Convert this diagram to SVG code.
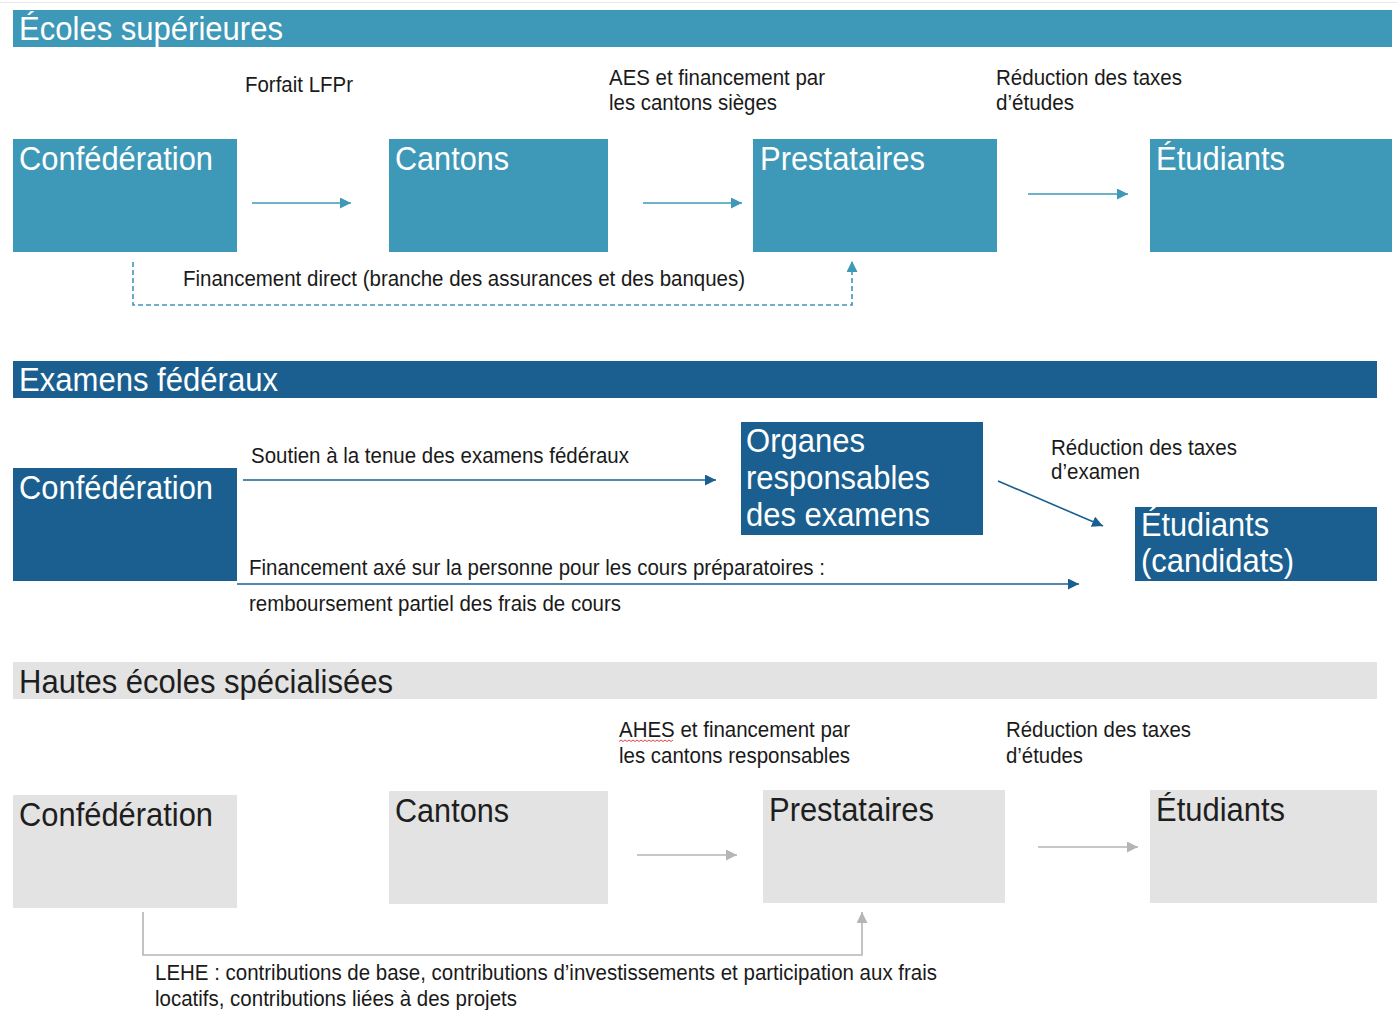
<svg xmlns="http://www.w3.org/2000/svg" width="1397" height="1010" viewBox="0 0 1397 1010">
<defs>
<style>
text{font-family:"Liberation Sans",Arial,sans-serif}
.lbl{font-size:22px;fill:#1a1a1a}
.big{font-size:33px}
.w{fill:#ffffff}
.d{fill:#1e1e1e}
.s1{fill:#3e98b7}
.s2{fill:#1a5f8f}
.s3{fill:#e3e3e3}
.c1{stroke:#3e98b7;stroke-width:1.6;fill:none}
.c2{stroke:#1a5f8f;stroke-width:1.6;fill:none}
.c3{stroke:#b5b5b5;stroke-width:1.6;fill:none}
</style>
<marker id="a1" markerUnits="userSpaceOnUse" markerWidth="13" markerHeight="13" refX="11" refY="5.5" orient="auto"><path d="M0,0 L11,5.5 L0,11 z" fill="#3e98b7"/></marker>
<marker id="a2" markerUnits="userSpaceOnUse" markerWidth="13" markerHeight="13" refX="11" refY="5.5" orient="auto"><path d="M0,0 L11,5.5 L0,11 z" fill="#1a5f8f"/></marker>
<marker id="a3" markerUnits="userSpaceOnUse" markerWidth="13" markerHeight="13" refX="11" refY="5.5" orient="auto"><path d="M0,0 L11,5.5 L0,11 z" fill="#b5b5b5"/></marker>
</defs>
<rect width="1397" height="1010" fill="#ffffff"/>
<line x1="0" y1="2.5" x2="1397" y2="2.5" stroke="#e8e8e8" stroke-width="1"/>

<!-- Section 1 -->
<g id="header-ecoles-superieures">
<rect class="s1" x="13" y="10" width="1379" height="37"/>
<text class="big w" x="19" y="40" textLength="264" lengthAdjust="spacingAndGlyphs">Écoles supérieures</text>
</g>
<g id="es-confederation">
<rect class="s1" x="13" y="139" width="224" height="113"/>
<text class="big w" x="19" y="170" textLength="194" lengthAdjust="spacingAndGlyphs">Confédération</text>
</g>
<g id="es-cantons">
<rect class="s1" x="389" y="139" width="219" height="113"/>
<text class="big w" x="395" y="170" textLength="114" lengthAdjust="spacingAndGlyphs">Cantons</text>
</g>
<g id="es-prestataires">
<rect class="s1" x="753" y="139" width="244" height="113"/>
<text class="big w" x="760" y="170" textLength="165" lengthAdjust="spacingAndGlyphs">Prestataires</text>
</g>
<g id="es-etudiants">
<rect class="s1" x="1150" y="139" width="242" height="113"/>
<text class="big w" x="1156" y="170" textLength="129" lengthAdjust="spacingAndGlyphs">Étudiants</text>
</g>
<g id="es-labels">
<text class="lbl" x="245" y="92" textLength="108" lengthAdjust="spacingAndGlyphs">Forfait LFPr</text>
<text class="lbl" x="609" y="85" textLength="216" lengthAdjust="spacingAndGlyphs">AES et financement par</text>
<text class="lbl" x="609" y="110" textLength="168" lengthAdjust="spacingAndGlyphs">les cantons sièges</text>
<text class="lbl" x="996" y="85" textLength="186" lengthAdjust="spacingAndGlyphs">Réduction des taxes</text>
<text class="lbl" x="996" y="110" textLength="78" lengthAdjust="spacingAndGlyphs">d’études</text>
<text class="lbl" x="183" y="286" textLength="562" lengthAdjust="spacingAndGlyphs">Financement direct (branche des assurances et des banques)</text>
</g>

<!-- Section 2 -->
<g id="header-examens-federaux">
<rect class="s2" x="13" y="361" width="1364" height="37"/>
<text class="big w" x="19" y="391" textLength="259" lengthAdjust="spacingAndGlyphs">Examens fédéraux</text>
</g>
<g id="ef-confederation">
<rect class="s2" x="13" y="468" width="224" height="113"/>
<text class="big w" x="19" y="499" textLength="194" lengthAdjust="spacingAndGlyphs">Confédération</text>
</g>
<g id="ef-organes">
<rect class="s2" x="741" y="422" width="242" height="113"/>
<text class="big w" x="746" y="452" textLength="119" lengthAdjust="spacingAndGlyphs">Organes</text>
<text class="big w" x="746" y="489" textLength="184" lengthAdjust="spacingAndGlyphs">responsables</text>
<text class="big w" x="746" y="526" textLength="184" lengthAdjust="spacingAndGlyphs">des examens</text>
</g>
<g id="ef-etudiants">
<rect class="s2" x="1135" y="507" width="242" height="74"/>
<text class="big w" x="1141" y="536" textLength="128" lengthAdjust="spacingAndGlyphs">Étudiants</text>
<text class="big w" x="1141" y="572" textLength="153" lengthAdjust="spacingAndGlyphs">(candidats)</text>
</g>
<g id="ef-labels">
<text class="lbl" x="251" y="463" textLength="378" lengthAdjust="spacingAndGlyphs">Soutien à la tenue des examens fédéraux</text>
<text class="lbl" x="249" y="575" textLength="576" lengthAdjust="spacingAndGlyphs">Financement axé sur la personne pour les cours préparatoires :</text>
<text class="lbl" x="249" y="611" textLength="372" lengthAdjust="spacingAndGlyphs">remboursement partiel des frais de cours</text>
<text class="lbl" x="1051" y="455" textLength="186" lengthAdjust="spacingAndGlyphs">Réduction des taxes</text>
<text class="lbl" x="1051" y="479" textLength="89" lengthAdjust="spacingAndGlyphs">d’examen</text>
</g>

<!-- Section 3 -->
<g id="header-hes">
<rect class="s3" x="13" y="662" width="1364" height="37"/>
<text class="big d" x="19" y="693" textLength="374" lengthAdjust="spacingAndGlyphs">Hautes écoles spécialisées</text>
</g>
<g id="hes-confederation">
<rect class="s3" x="13" y="795" width="224" height="113"/>
<text class="big d" x="19" y="826" textLength="194" lengthAdjust="spacingAndGlyphs">Confédération</text>
</g>
<g id="hes-cantons">
<rect class="s3" x="389" y="791" width="219" height="113"/>
<text class="big d" x="395" y="822" textLength="114" lengthAdjust="spacingAndGlyphs">Cantons</text>
</g>
<g id="hes-prestataires">
<rect class="s3" x="763" y="790" width="242" height="113"/>
<text class="big d" x="769" y="821" textLength="165" lengthAdjust="spacingAndGlyphs">Prestataires</text>
</g>
<g id="hes-etudiants">
<rect class="s3" x="1150" y="790" width="227" height="113"/>
<text class="big d" x="1156" y="821" textLength="129" lengthAdjust="spacingAndGlyphs">Étudiants</text>
</g>
<g id="hes-labels">
<text class="lbl" x="619" y="737" textLength="231" lengthAdjust="spacingAndGlyphs">AHES et financement par</text>
<path d="M619,741.5 l2,-1.5 l2,1.5 l2,-1.5 l2,1.5 l2,-1.5 l2,1.5 l2,-1.5 l2,1.5 l2,-1.5 l2,1.5 l2,-1.5 l2,1.5 l2,-1.5 l2,1.5 l2,-1.5 l2,1.5 l2,-1.5 l2,1.5 l2,-1.5 l2,1.5 l2,-1.5 l2,1.5 l2,-1.5 l2,1.5 l2,-1.5 l2,1.5 l2,-1.5" fill="none" stroke="#e03030" stroke-width="0.9"/>
<text class="lbl" x="619" y="763" textLength="231" lengthAdjust="spacingAndGlyphs">les cantons responsables</text>
<text class="lbl" x="1006" y="737" textLength="185" lengthAdjust="spacingAndGlyphs">Réduction des taxes</text>
<text class="lbl" x="1006" y="763" textLength="77" lengthAdjust="spacingAndGlyphs">d’études</text>
<text class="lbl" x="155" y="980" textLength="782" lengthAdjust="spacingAndGlyphs">LEHE : contributions de base, contributions d’investissements et participation aux frais</text>
<text class="lbl" x="155" y="1006" textLength="362" lengthAdjust="spacingAndGlyphs">locatifs, contributions liées à des projets</text>
</g>

<!-- Connectors -->
<g id="connectors">
<line class="c1" x1="252" y1="203" x2="351" y2="203" marker-end="url(#a1)"/>
<line class="c1" x1="643" y1="203" x2="742" y2="203" marker-end="url(#a1)"/>
<line class="c1" x1="1028" y1="194" x2="1128" y2="194" marker-end="url(#a1)"/>
<path class="c1" d="M133,262 V305 H852 V261" stroke-dasharray="5,3" marker-end="url(#a1)"/>
<line class="c2" x1="243" y1="480" x2="716" y2="480" marker-end="url(#a2)"/>
<line class="c2" x1="237" y1="584" x2="1079" y2="584" marker-end="url(#a2)"/>
<line class="c2" x1="998" y1="481" x2="1103" y2="526" marker-end="url(#a2)"/>
<line class="c3" x1="637" y1="855" x2="737" y2="855" marker-end="url(#a3)"/>
<line class="c3" x1="1038" y1="847" x2="1138" y2="847" marker-end="url(#a3)"/>
<path class="c3" d="M143,912 V955 H862 V912" marker-end="url(#a3)"/>
</g>
</svg>
